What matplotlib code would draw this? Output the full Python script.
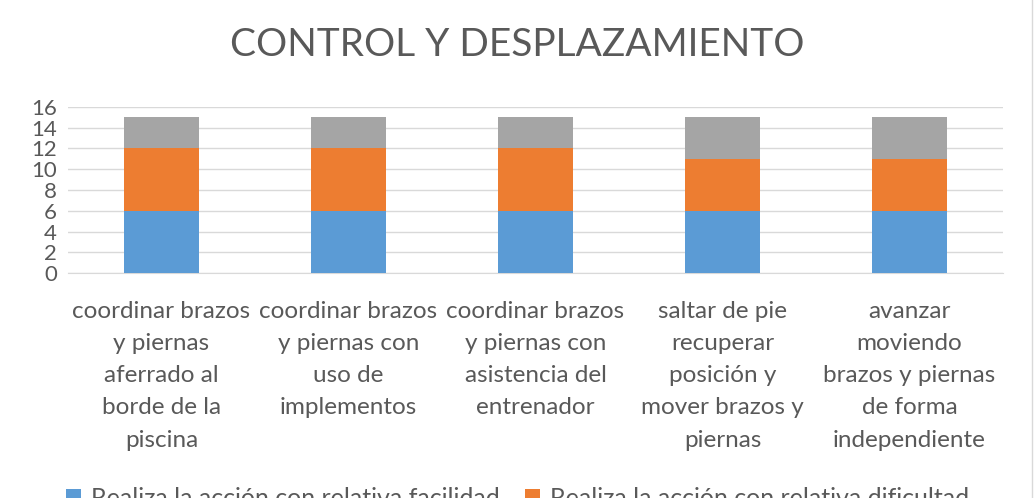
import matplotlib

matplotlib.use("Agg")
import matplotlib.pyplot as plt  # noqa: E402
import numpy as np  # noqa: E402
from matplotlib.lines import Line2D  # noqa: E402

categories = [
    "coordinar brazos\ny piernas\naferrado al\nborde de la\npiscina",
    "coordinar brazos\ny piernas con\nuso de\nimplementos",
    "coordinar brazos\ny piernas con\nasistencia del\nentrenador",
    "saltar de pie\nrecuperar\nposición y\nmover brazos y\npiernas",
    "avanzar\nmoviendo\nbrazos y piernas\nde forma\nindependiente",
]
facilidad = [6, 6, 6, 6, 6]
dificultad = [6, 6, 6, 5, 5]
no_realiza = [3, 3, 3, 4, 4]
series_labels = [
    "Realiza la acción con relativa facilidad",
    "Realiza la acción con relativa dificultad",
    "No realiza la acción",
]
colors = ["#5B9BD5", "#ED7D31", "#A5A5A5"]
yticks = list(range(0, 17, 2))

text_color = "#595959"
plt.rcParams["font.family"] = ["Lato", "DejaVu Sans"]

fig = plt.figure(figsize=(10.35, 4.98), dpi=100)
ax = fig.add_axes([68 / 1035, 225 / 498, 935 / 1035, 166 / 498])

x = np.arange(len(categories))
bottom = np.zeros(len(categories))
handles = []
for vals, col, lab in zip([facilidad, dificultad, no_realiza], colors, series_labels):
    b = ax.bar(x, vals, width=0.4, bottom=bottom, color=col, label=lab, zorder=3)
    handles.append(b)
    bottom += np.array(vals)

ax.set_ylim(0, 16)
ax.set_xlim(-0.5, len(categories) - 0.5)
ax.set_yticks(yticks)
ax.set_yticklabels([str(t) for t in yticks], fontsize=16, color=text_color)
ax.set_xticks(x)
ax.set_xticklabels(categories, fontsize=17.5, color=text_color, linespacing=1.66)
ax.tick_params(length=0)
ax.tick_params(axis="x", pad=20)
ax.tick_params(axis="y", pad=8)
ax.grid(axis="y", color="#D9D9D9", linewidth=1, zorder=0)
for side in ["top", "right", "left"]:
    ax.spines[side].set_visible(False)
ax.spines["bottom"].set_color("#D9D9D9")

fig.text(0.5, 1 - 45 / 498, "CONTROL Y DESPLAZAMIENTO", ha="center", va="center",
         fontsize=28, color=text_color)

# legend runs off the bottom edge, as in the source chart
order = [handles[0], handles[2], handles[1]]
labels = [series_labels[0], series_labels[2], series_labels[1]]
fig.legend(order, labels, loc="upper center", bbox_to_anchor=(0.5, 11 / 498), ncol=2,
           frameon=False, fontsize=18, labelcolor=text_color, handlelength=0.6,
           handleheight=0.6, handletextpad=0.4, columnspacing=1.0,
           borderaxespad=0, borderpad=0)

fig.add_artist(Line2D([1032 / 1035, 1032 / 1035], [0, 1], color="#D9D9D9", linewidth=1))

fig.savefig("out.png", dpi=100)
